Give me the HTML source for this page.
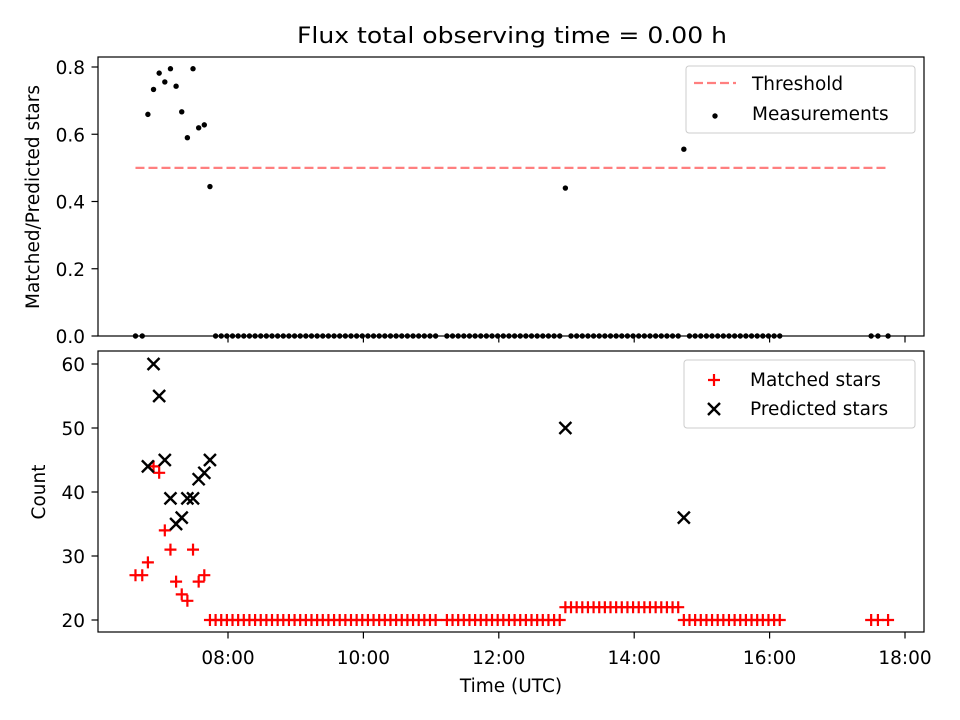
<!DOCTYPE html>
<html><head><meta charset="utf-8"><style>
body{margin:0;background:#fff}
svg{display:block;font-family:"DejaVu Sans","Liberation Sans",sans-serif}
</style></head><body>
<svg id="fig" width="960" height="720" viewBox="0 0 960 720">
<rect width="960" height="720" fill="#fff"/>
<text x="297" y="43" font-size="22.2" textLength="430" lengthAdjust="spacingAndGlyphs">Flux total observing time = 0.00 h</text>
<g id="topAx"></g>
<g id="botAx"></g>
</svg>
<script>
// times in minutes of day (UTC)
const times = [398,404,409,414,419,424,429,434,439,444,449,454,459,464,
469,474,479,484,489,494,499,504,509,514,519,524,529,534,539,544,549,554,559,564,569,574,579,584,589,594,599,604,609,614,619,624,629,634,639,644,649,654,659,664,
674,679,684,689,694,699,704,709,714,719,724,729,734,739,744,749,754,759,764,769,774,
779,784,789,794,799,804,809,814,819,824,829,834,839,844,849,854,859,864,869,874,879,
884,889,894,899,904,909,914,919,924,929,934,939,944,949,954,959,964,969,
1050,1056,1065];
const matched = [27,27,29,44,43,34,31,26,24,23,31,26,27,20,
20,20,20,20,20,20,20,20,20,20,20,20,20,20,20,20,20,20,20,20,20,20,20,20,20,20,20,20,20,20,20,20,20,20,20,20,20,20,20,20,
20,20,20,20,20,20,20,20,20,20,20,20,20,20,20,20,20,20,20,20,20,
22,22,22,22,22,22,22,22,22,22,22,22,22,22,22,22,22,22,22,22,22,
20,20,20,20,20,20,20,20,20,20,20,20,20,20,20,20,20,20,
20,20,20];
const predTimes = [409,414,419,424,429,434,439,444,449,454,459,464,779,884];
const predicted = [44,60,55,45,39,35,36,39,39,42,43,45,50,36];
const xTickLabels = ["08:00","10:00","12:00","14:00","16:00","18:00"];
const xTickMins = [480,600,720,840,960,1080];
const topTicks = [0.0,0.2,0.4,0.6,0.8];
const botTicks = [20,30,40,50,60];
const threshold = 0.5, thrStart = 398, thrEnd = 1065;

const NS="http://www.w3.org/2000/svg";
function mk(p,tag,a){const e=document.createElementNS(NS,tag);for(const k in a)e.setAttribute(k,a[k]);p.appendChild(e);return e;}
const L=98,R=924,FS=18.5;
const xs=m=>228+(m-480)*67.7/60;
const T={t:57,b:336}, B={t:351,b:632};
const yTop=v=>336-v*336.25;
const yBot=v=>620-(v-20)*6.4;

const topG=document.getElementById('topAx'), botG=document.getElementById('botAx');

function frame(g,ax,name){
  const r=mk(g,'rect',{x:L,y:ax.t,width:R-L,height:ax.b-ax.t,fill:'none',stroke:'#000','stroke-width':1.2});
  
  
}
function yTicks(g,ticks,f,fmt){
  ticks.forEach(v=>{const y=f(v);
    const l=mk(g,'line',{x1:L-6.5,x2:L,y1:y,y2:y,stroke:'#000','stroke-width':1.2});
    
    
    const t=mk(g,'text',{x:L-13,y:y+7,'font-size':FS,'text-anchor':'end'});t.textContent=fmt(v);
    
    
  });
}
function xTicks(g,ax,labels){
  xTickMins.forEach((m,i)=>{const x=xs(m);
    const l=mk(g,'line',{x1:x,x2:x,y1:ax.b,y2:ax.b+6.5,stroke:'#000','stroke-width':1.2});
    
    
    if(labels){const t=mk(g,'text',{x:x,y:ax.b+32,'font-size':FS,'text-anchor':'middle'});t.textContent=xTickLabels[i];
      
      }
  });
}
// top axes
const thr=mk(topG,'line',{x1:xs(thrStart),x2:xs(thrEnd),y1:yTop(threshold),y2:yTop(threshold),stroke:'#ff7f7f','stroke-width':2.2,'stroke-dasharray':'9,4'});


times.forEach((m,i)=>{
  const j=predTimes.indexOf(m);
  const f=j>=0?matched[i]/predicted[j]:0;
  const c=mk(topG,'circle',{cx:xs(m),cy:yTop(f),r:2.7,fill:'#000'});
  
  
});
frame(topG,T,'flux-plot-frame');
yTicks(topG,topTicks,yTop,v=>v.toFixed(1));
xTicks(topG,T,false);
const yl1=mk(topG,'text',{transform:'translate(39,197) rotate(-90)','font-size':FS,'text-anchor':'middle'});yl1.textContent='Matched/Predicted stars';


// top legend
const lg1=mk(topG,'g',{});


mk(lg1,'rect',{x:686,y:66,width:229,height:67,rx:3,fill:'#fff',stroke:'#ccc'});
mk(lg1,'line',{x1:694,x2:736,y1:83,y2:83,stroke:'#ff7f7f','stroke-width':2.2,'stroke-dasharray':'9,4'});
let t=mk(lg1,'text',{x:752,y:90,'font-size':FS});t.textContent='Threshold';
mk(lg1,'circle',{cx:715,cy:116,r:2.7,fill:'#000'});
t=mk(lg1,'text',{x:752,y:120,'font-size':FS});t.textContent='Measurements';

// bottom axes
times.forEach((m,i)=>{const x=xs(m),y=yBot(matched[i]);
  const p=mk(botG,'path',{d:`M${x-6},${y}H${x+6}M${x},${y-6}V${y+6}`,stroke:'#f00','stroke-width':2.2});
  
  
});
predTimes.forEach((m,i)=>{const x=xs(m),y=yBot(predicted[i]);
  const p=mk(botG,'path',{d:`M${x-6},${y-6}L${x+6},${y+6}M${x-6},${y+6}L${x+6},${y-6}`,stroke:'#000','stroke-width':2.4});
  
  
});
frame(botG,B,'count-plot-frame');
yTicks(botG,botTicks,yBot,v=>String(v));
xTicks(botG,B,true);
const yl2=mk(botG,'text',{transform:'translate(45,492) rotate(-90)','font-size':FS,'text-anchor':'middle'});yl2.textContent='Count';


const xl=mk(botG,'text',{x:511,y:692,'font-size':FS,'text-anchor':'middle'});xl.textContent='Time (UTC)';


const lg2=mk(botG,'g',{});


mk(lg2,'rect',{x:684,y:360,width:231,height:68,rx:3,fill:'#fff',stroke:'#ccc'});
mk(lg2,'path',{d:'M708,380H720M714,374V386',stroke:'#f00','stroke-width':2.2});
t=mk(lg2,'text',{x:750,y:386,'font-size':FS});t.textContent='Matched stars';
mk(lg2,'path',{d:'M708,403L720,415M708,415L720,403',stroke:'#000','stroke-width':2.4});
t=mk(lg2,'text',{x:750,y:415,'font-size':FS});t.textContent='Predicted stars';
</script>
</body></html>
